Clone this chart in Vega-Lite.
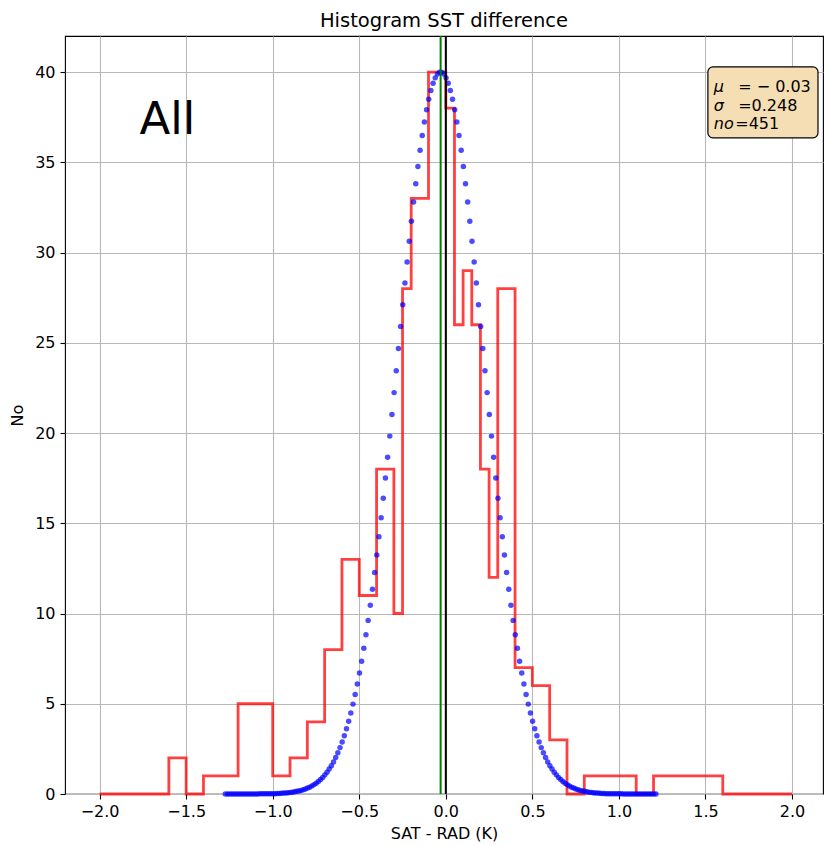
{
"$schema": "https://vega.github.io/schema/vega-lite/v6.json",
"width": 758, "height": 758,
"autosize": {"type": "none"},
"padding": {"left": 65, "top": 36, "right": 2, "bottom": 52},
"title": {"text": "Histogram SST difference", "fontSize": 19.5, "fontWeight": "normal", "color": "black", "offset": 4, "anchor": "middle", "font": "DejaVu Sans"},
"config": {
  "font": "DejaVu Sans",
  "view": {"stroke": "black", "strokeWidth": 1.1},
  "axis": {"gridColor": "#b8b8b8", "gridWidth": 1.1, "gridOpacity": 1, "domain": false, "tickColor": "black", "tickSize": 5, "tickWidth": 1.1, "labelColor": "black", "labelFontSize": 16, "titleColor": "black", "titleFontSize": 16, "titleFontWeight": "normal", "labelFont": "DejaVu Sans", "titleFont": "DejaVu Sans"}
},
"datasets": {
"hist": [
{"edge": -2.0, "count": 0}, {"edge": -1.6, "count": 2}, {"edge": -1.5, "count": 0}, {"edge": -1.4, "count": 1},
{"edge": -1.2, "count": 5}, {"edge": -1.0, "count": 1}, {"edge": -0.9, "count": 2}, {"edge": -0.8, "count": 4},
{"edge": -0.7, "count": 8}, {"edge": -0.6, "count": 13}, {"edge": -0.5, "count": 11}, {"edge": -0.4, "count": 18},
{"edge": -0.3, "count": 10}, {"edge": -0.25, "count": 28}, {"edge": -0.2, "count": 33}, {"edge": -0.1, "count": 40},
{"edge": 0.0, "count": 38}, {"edge": 0.05, "count": 26}, {"edge": 0.1, "count": 29}, {"edge": 0.15, "count": 26},
{"edge": 0.2, "count": 18}, {"edge": 0.25, "count": 12}, {"edge": 0.3, "count": 28}, {"edge": 0.4, "count": 7},
{"edge": 0.5, "count": 6}, {"edge": 0.6, "count": 3}, {"edge": 0.7, "count": 0}, {"edge": 0.8, "count": 1},
{"edge": 1.1, "count": 0}, {"edge": 1.2, "count": 1}, {"edge": 1.6, "count": 0}, {"edge": 2.0, "count": 0}
],
"gauss": [
{"x":-0.03625,"y":39.99},{"x":-0.04875,"y":39.89},{"x":-0.06125,"y":39.68},{"x":-0.07375,"y":39.38},{"x":-0.08625,"y":38.98},
{"x":-0.09875,"y":38.49},{"x":-0.11125,"y":37.91},{"x":-0.12375,"y":37.24},{"x":-0.13625,"y":36.49},{"x":-0.14875,"y":35.67},
{"x":-0.16125,"y":34.77},{"x":-0.17375,"y":33.81},{"x":-0.18625,"y":32.80},{"x":-0.19875,"y":31.73},{"x":-0.21125,"y":30.63},
{"x":-0.22375,"y":29.48},{"x":-0.23625,"y":28.31},{"x":-0.24875,"y":27.11},{"x":-0.26125,"y":25.90},{"x":-0.27375,"y":24.68},
{"x":-0.28625,"y":23.45},{"x":-0.29875,"y":22.24},{"x":-0.31125,"y":21.03},{"x":-0.32375,"y":19.83},{"x":-0.33625,"y":18.66},
{"x":-0.34875,"y":17.51},{"x":-0.36125,"y":16.39},{"x":-0.37375,"y":15.31},{"x":-0.38625,"y":14.26},{"x":-0.39875,"y":13.24},
{"x":-0.41125,"y":12.27},{"x":-0.42375,"y":11.34},{"x":-0.43625,"y":10.46},{"x":-0.44875,"y":9.62},{"x":-0.46125,"y":8.82},
{"x":-0.47375,"y":8.07},{"x":-0.48625,"y":7.36},{"x":-0.49875,"y":6.70},{"x":-0.51125,"y":6.09},{"x":-0.52375,"y":5.51},
{"x":-0.53625,"y":4.98},{"x":-0.54875,"y":4.49},{"x":-0.56125,"y":4.03},{"x":-0.57375,"y":3.62},{"x":-0.58625,"y":3.23},
{"x":-0.59875,"y":2.88},{"x":-0.61125,"y":2.57},{"x":-0.62375,"y":2.28},{"x":-0.63625,"y":2.02},{"x":-0.64875,"y":1.78},
{"x":-0.66125,"y":1.57},{"x":-0.67375,"y":1.38},{"x":-0.68625,"y":1.21},{"x":-0.69875,"y":1.06},{"x":-0.71125,"y":0.92},
{"x":-0.72375,"y":0.80},{"x":-0.73625,"y":0.69},{"x":-0.74875,"y":0.60},{"x":-0.76125,"y":0.52},{"x":-0.77375,"y":0.45},
{"x":-0.78625,"y":0.38},{"x":-0.79875,"y":0.33},{"x":-0.81125,"y":0.28},{"x":-0.82375,"y":0.24},{"x":-0.83625,"y":0.20},
{"x":-0.84875,"y":0.17},{"x":-0.86125,"y":0.15},{"x":-0.87375,"y":0.12},{"x":-0.88625,"y":0.10},{"x":-0.89875,"y":0.09},
{"x":-0.91125,"y":0.07},{"x":-0.92375,"y":0.06},{"x":-0.93625,"y":0.05},{"x":-0.94875,"y":0.04},{"x":-0.96125,"y":0.03},
{"x":-0.97375,"y":0.03},{"x":-0.98625,"y":0.02},{"x":-0.99875,"y":0.02},{"x":-1.01125,"y":0.02},{"x":-1.02375,"y":0.01},
{"x":-1.03625,"y":0.01},{"x":-1.04875,"y":0.01},{"x":-1.06125,"y":0.01},{"x":-1.07375,"y":0.01},{"x":-1.08625,"y":0},
{"x":-1.09875,"y":0},{"x":-1.11125,"y":0},{"x":-1.12375,"y":0},{"x":-1.13625,"y":0},{"x":-1.14875,"y":0},
{"x":-1.16125,"y":0},{"x":-1.17375,"y":0},{"x":-1.18625,"y":0},{"x":-1.19875,"y":0},{"x":-1.21125,"y":0},
{"x":-1.22375,"y":0},{"x":-1.23625,"y":0},{"x":-1.24875,"y":0},{"x":-1.26125,"y":0},{"x":-1.27375,"y":0},
{"x":-0.02375,"y":39.99},{"x":-0.01125,"y":39.89},{"x":0.00125,"y":39.68},{"x":0.01375,"y":39.38},{"x":0.02625,"y":38.98},
{"x":0.03875,"y":38.49},{"x":0.05125,"y":37.91},{"x":0.06375,"y":37.24},{"x":0.07625,"y":36.49},{"x":0.08875,"y":35.67},
{"x":0.10125,"y":34.77},{"x":0.11375,"y":33.81},{"x":0.12625,"y":32.80},{"x":0.13875,"y":31.73},{"x":0.15125,"y":30.63},
{"x":0.16375,"y":29.48},{"x":0.17625,"y":28.31},{"x":0.18875,"y":27.11},{"x":0.20125,"y":25.90},{"x":0.21375,"y":24.68},
{"x":0.22625,"y":23.45},{"x":0.23875,"y":22.24},{"x":0.25125,"y":21.03},{"x":0.26375,"y":19.83},{"x":0.27625,"y":18.66},
{"x":0.28875,"y":17.51},{"x":0.30125,"y":16.39},{"x":0.31375,"y":15.31},{"x":0.32625,"y":14.26},{"x":0.33875,"y":13.24},
{"x":0.35125,"y":12.27},{"x":0.36375,"y":11.34},{"x":0.37625,"y":10.46},{"x":0.38875,"y":9.62},{"x":0.40125,"y":8.82},
{"x":0.41375,"y":8.07},{"x":0.42625,"y":7.36},{"x":0.43875,"y":6.70},{"x":0.45125,"y":6.09},{"x":0.46375,"y":5.51},
{"x":0.47625,"y":4.98},{"x":0.48875,"y":4.49},{"x":0.50125,"y":4.03},{"x":0.51375,"y":3.62},{"x":0.52625,"y":3.23},
{"x":0.53875,"y":2.88},{"x":0.55125,"y":2.57},{"x":0.56375,"y":2.28},{"x":0.57625,"y":2.02},{"x":0.58875,"y":1.78},
{"x":0.60125,"y":1.57},{"x":0.61375,"y":1.38},{"x":0.62625,"y":1.21},{"x":0.63875,"y":1.06},{"x":0.65125,"y":0.92},
{"x":0.66375,"y":0.80},{"x":0.67625,"y":0.69},{"x":0.68875,"y":0.60},{"x":0.70125,"y":0.52},{"x":0.71375,"y":0.45},
{"x":0.72625,"y":0.38},{"x":0.73875,"y":0.33},{"x":0.75125,"y":0.28},{"x":0.76375,"y":0.24},{"x":0.77625,"y":0.20},
{"x":0.78875,"y":0.17},{"x":0.80125,"y":0.15},{"x":0.81375,"y":0.12},{"x":0.82625,"y":0.10},{"x":0.83875,"y":0.09},
{"x":0.85125,"y":0.07},{"x":0.86375,"y":0.06},{"x":0.87625,"y":0.05},{"x":0.88875,"y":0.04},{"x":0.90125,"y":0.03},
{"x":0.91375,"y":0.03},{"x":0.92625,"y":0.02},{"x":0.93875,"y":0.02},{"x":0.95125,"y":0.02},{"x":0.96375,"y":0.01},
{"x":0.97625,"y":0.01},{"x":0.98875,"y":0.01},{"x":1.00125,"y":0.01},{"x":1.01375,"y":0.01},{"x":1.02625,"y":0},
{"x":1.03875,"y":0},{"x":1.05125,"y":0},{"x":1.06375,"y":0},{"x":1.07625,"y":0},{"x":1.08875,"y":0},
{"x":1.10125,"y":0},{"x":1.11375,"y":0},{"x":1.12625,"y":0},{"x":1.13875,"y":0},{"x":1.15125,"y":0},
{"x":1.16375,"y":0},{"x":1.17625,"y":0},{"x":1.18875,"y":0},{"x":1.20125,"y":0},{"x":1.21375,"y":0}
]
},
"layer": [
{
  "data": {"name": "hist"},
  "mark": {"type": "line", "interpolate": "step-after", "color": "red", "opacity": 0.75, "strokeWidth": 2.8, "strokeJoin": "miter", "strokeCap": "butt"},
  "encoding": {
    "x": {"field": "edge", "type": "quantitative", "scale": {"domain": [-2.2, 2.179], "nice": false, "zero": false},
          "axis": {"values": [-2, -1.5, -1, -0.5, 0, 0.5, 1, 1.5, 2], "format": ".1f", "title": "SAT - RAD (K)", "labelPadding": 4, "titlePadding": 6, "grid": true}},
    "y": {"field": "count", "type": "quantitative", "scale": {"domain": [0, 42], "nice": false, "zero": true},
          "axis": {"values": [0, 5, 10, 15, 20, 25, 30, 35, 40], "format": "d", "title": "No", "labelPadding": 5, "titlePadding": 9, "grid": true}}
  }
},
{
  "data": {"name": "gauss"},
  "mark": {"type": "circle", "color": "blue", "opacity": 0.7, "size": 30, "stroke": null},
  "encoding": {
    "x": {"field": "x", "type": "quantitative"},
    "y": {"field": "y", "type": "quantitative"}
  }
},
{
  "data": {"values": [{}]},
  "mark": {"type": "rule", "color": "green", "strokeWidth": 2},
  "encoding": {"x": {"datum": -0.03}}
},
{
  "data": {"values": [{}]},
  "mark": {"type": "rule", "color": "black", "strokeWidth": 2},
  "encoding": {"x": {"datum": 0}}
},
{
  "data": {"values": [{}]},
  "mark": {"type": "text", "text": "All", "fontSize": 45, "align": "left", "baseline": "alphabetic", "color": "black"},
  "encoding": {"x": {"datum": -1.77}, "y": {"datum": 36.55}}
},
{
  "data": {"values": [{}]},
  "mark": {"type": "rect", "fill": "#f6deb4", "stroke": "black", "strokeWidth": 1.2, "cornerRadius": 5},
  "encoding": {"x": {"datum": 1.514}, "x2": {"datum": 2.15}, "y": {"datum": 40.29}, "y2": {"datum": 36.36}}
},
{
  "data": {"values": [{}]},
  "mark": {"type": "text", "text": "μ", "fontSize": 16, "fontStyle": "italic", "align": "left", "baseline": "alphabetic", "color": "black"},
  "encoding": {"x": {"datum": 1.548}, "y": {"datum": 38.91}}
},
{
  "data": {"values": [{}]},
  "mark": {"type": "text", "text": "= − 0.03", "fontSize": 16, "align": "left", "baseline": "alphabetic", "color": "black"},
  "encoding": {"x": {"datum": 1.689}, "y": {"datum": 38.91}}
},
{
  "data": {"values": [{}]},
  "mark": {"type": "text", "text": "σ", "fontSize": 16, "fontStyle": "italic", "align": "left", "baseline": "alphabetic", "color": "black"},
  "encoding": {"x": {"datum": 1.548}, "y": {"datum": 37.86}}
},
{
  "data": {"values": [{}]},
  "mark": {"type": "text", "text": "=0.248", "fontSize": 16, "align": "left", "baseline": "alphabetic", "color": "black"},
  "encoding": {"x": {"datum": 1.689}, "y": {"datum": 37.86}}
},
{
  "data": {"values": [{}]},
  "mark": {"type": "text", "text": "no", "fontSize": 16, "fontStyle": "italic", "align": "left", "baseline": "alphabetic", "color": "black"},
  "encoding": {"x": {"datum": 1.548}, "y": {"datum": 36.84}}
},
{
  "data": {"values": [{}]},
  "mark": {"type": "text", "text": "=451", "fontSize": 16, "align": "left", "baseline": "alphabetic", "color": "black"},
  "encoding": {"x": {"datum": 1.672}, "y": {"datum": 36.84}}
}
]
}
